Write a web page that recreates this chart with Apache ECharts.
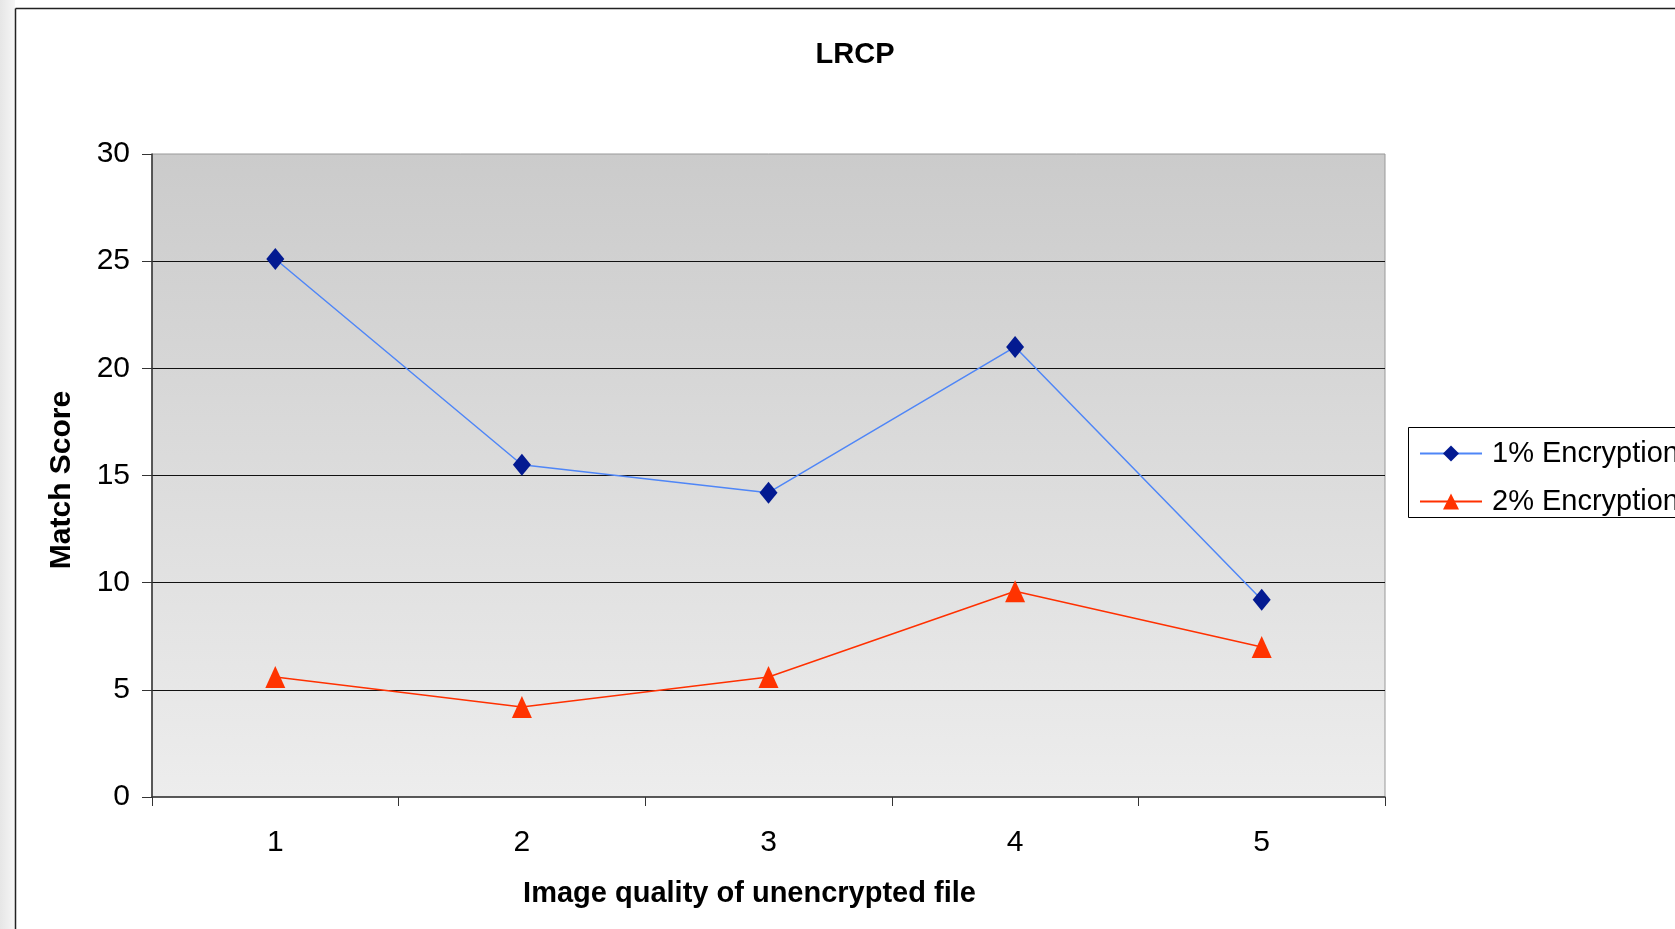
<!DOCTYPE html>
<html>
<head>
<meta charset="utf-8">
<title>LRCP</title>
<script src="https://cdn.jsdelivr.net/npm/echarts@6/dist/echarts.min.js"></script>
<style>
  html, body { margin: 0; padding: 0; background: #ffffff; }
  #chart { width: 1675px; height: 929px; }
</style>
</head>
<body>
<div id="chart"></div>
<script>
// Image quality levels of the unencrypted file
const qualityLevels = ['1', '2', '3', '4', '5'];
// Match scores per encryption ratio
const enc1Scores = [25.1, 15.5, 14.2, 21.0, 9.2];
const enc2Scores = [5.6, 4.2, 5.6, 9.6, 7.0];
const seriesNames = ['1% Encryption', '2% Encryption'];
// Match score axis
const scoreMin = 0;
const scoreMax = 30;
const scoreStep = 5;

const FONT = "'Liberation Sans', Arial, sans-serif";

const chart = echarts.init(document.getElementById('chart'), null, { renderer: 'canvas' });

chart.setOption({
  animation: false,
  backgroundColor: '#ffffff',
  textStyle: { fontFamily: FONT },
  title: {
    text: 'LRCP',
    left: 855,
    top: 40,
    textAlign: 'center',
    padding: 0,
    textStyle: { fontFamily: FONT, fontSize: 29, fontWeight: 'bold', color: '#000' }
  },
  graphic: [
    // outer frame strip and border
    { type: 'rect', silent: true, z: -10, shape: { x: 0, y: 0, width: 15, height: 929 },
      style: { fill: { type: 'linear', x: 0, y: 0, x2: 1, y2: 0,
        colorStops: [{ offset: 0, color: '#e6e6e6' }, { offset: 1, color: '#f6f6f6' }] } } },
    { type: 'line', silent: true, shape: { x1: 15.5, y1: 8.5, x2: 1675, y2: 8.5 },
      style: { stroke: '#222', lineWidth: 1.5 } },
    { type: 'line', silent: true, shape: { x1: 15.5, y1: 8.5, x2: 15.5, y2: 929 },
      style: { stroke: '#222', lineWidth: 1.5 } },
    // legend box
    { type: 'rect', silent: true, z: -5, shape: { x: 1408.5, y: 427.5, width: 320, height: 90 },
      style: { fill: '#ffffff', stroke: '#000', lineWidth: 1 } }
  ],
  legend: {
    data: seriesNames,
    orient: 'vertical',
    left: 1419,
    top: 439,
    padding: 0,
    itemWidth: 62,
    itemHeight: 20,
    itemGap: 19,
    textStyle: { fontFamily: FONT, fontSize: 29, color: '#000', lineHeight: 29, padding: [0, 0, 0, 5] }
  },
  grid: {
    left: 152,
    right: 290,
    top: 154,
    bottom: 132,
    show: true,
    borderColor: '#999',
    borderWidth: 1,
    backgroundColor: {
      type: 'linear', x: 0, y: 0, x2: 0, y2: 1,
      colorStops: [{ offset: 0, color: '#cbcbcb' }, { offset: 1, color: '#ededed' }]
    }
  },
  xAxis: {
    type: 'category',
    data: qualityLevels,
    boundaryGap: true,
    name: 'Image quality of unencrypted file',
    nameLocation: 'middle',
    nameGap: 82,
    nameTextStyle: { fontFamily: FONT, fontSize: 29, fontWeight: 'bold', color: '#000', padding: [0, 38, 0, 0] },
    axisLine: { lineStyle: { color: '#333', width: 1.5 } },
    axisTick: { show: true, length: 9, inside: false, lineStyle: { color: '#333', width: 1 } },
    axisLabel: { fontFamily: FONT, fontSize: 30, color: '#000', margin: 31 },
    splitLine: { show: false }
  },
  yAxis: {
    type: 'value',
    min: scoreMin,
    max: scoreMax,
    interval: scoreStep,
    name: 'Match Score',
    nameLocation: 'middle',
    nameGap: 75,
    nameRotate: 90,
    nameTextStyle: { fontFamily: FONT, fontSize: 30, fontWeight: 'bold', color: '#000', padding: [0, 9, 0, 0] },
    axisLine: { show: true, lineStyle: { color: '#333', width: 1.5 } },
    axisTick: { show: true, length: 10, lineStyle: { color: '#333', width: 1 } },
    axisLabel: { fontFamily: FONT, fontSize: 30, color: '#000', margin: 22 },
    splitLine: { show: true, showMinLine: false, showMaxLine: false, lineStyle: { color: '#111', width: 1.2 } }
  },
  series: [
    {
      name: seriesNames[0],
      type: 'line',
      data: enc1Scores,
      symbol: 'diamond',
      symbolSize: [18, 22],
      lineStyle: { color: '#4f86f7', width: 1.5 },
      itemStyle: { color: '#031a91', borderColor: '#031a91', borderWidth: 0 },
      z: 3
    },
    {
      name: seriesNames[1],
      type: 'line',
      data: enc2Scores,
      symbol: 'triangle',
      symbolSize: [20, 22],
      lineStyle: { color: '#ff3000', width: 1.5 },
      itemStyle: { color: '#ff3300', borderColor: '#ff3300', borderWidth: 0 },
      z: 2
    }
  ]
});
</script>
</body>
</html>
